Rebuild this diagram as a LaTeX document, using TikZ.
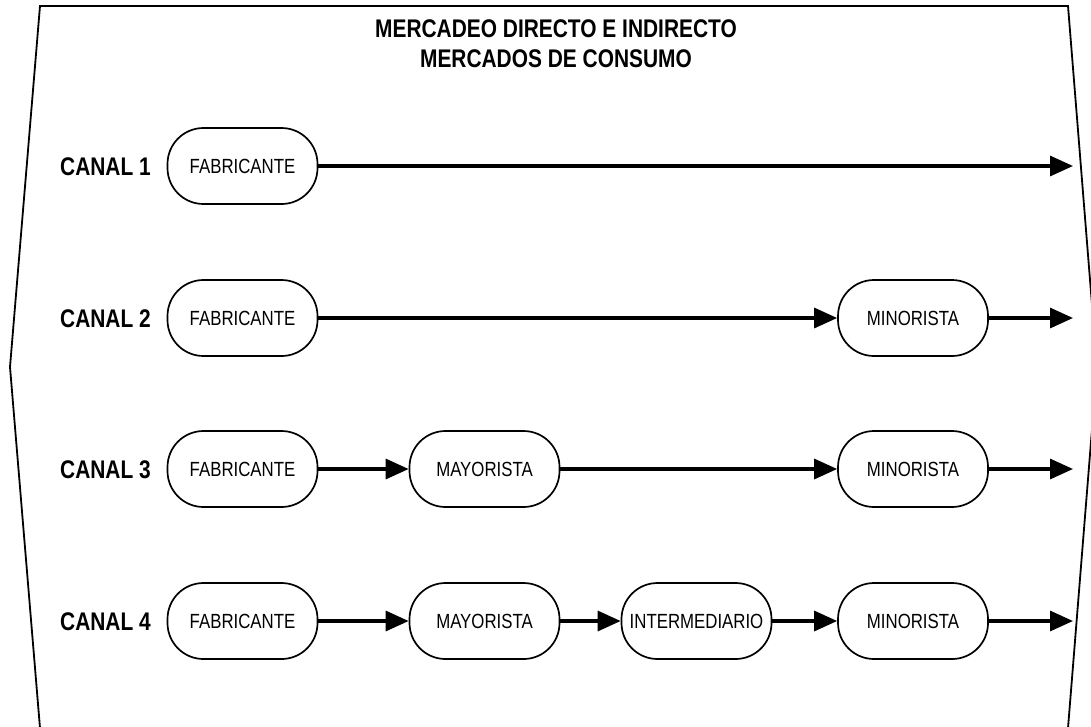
\documentclass[tikz,border=0pt]{standalone}
\usepackage{fontspec}
\setmainfont{Liberation Sans}[FakeStretch=0.82]
\usetikzlibrary{arrows.meta}
\tikzset{
  box/.style={draw=black, line width=1.7pt, rounded corners=36pt, minimum width=150pt, minimum height=76pt, inner sep=0pt, font=\fontsize{20.5pt}{24pt}\selectfont},
  conn/.style={line width=3.2pt, -{Triangle[length=23pt,width=20pt]}},
  canal/.style={anchor=base east, inner sep=0pt, font=\fontsize{25.5pt}{29pt}\selectfont\bfseries},
  ttl/.style={anchor=base, inner sep=0pt, font=\fontsize{25.5pt}{29pt}\selectfont\bfseries},
  frame/.style={draw=black, line width=1.8pt}
}
\begin{document}
\begin{tikzpicture}[x=1pt, y=-1pt]
\useasboundingbox (0,0) rectangle (1091,726);
\draw[frame] (40,6) -- (1068,6) -- (1097,367) -- (1068,728) -- (40,728) -- (10,367) -- cycle;
\node[ttl] (t1) at (556,37) {MERCADEO DIRECTO E INDIRECTO};
\node[ttl] (t2) at (556,67) {MERCADOS DE CONSUMO};
% row 1
\node[canal] (c1) at (151,175) {CANAL 1};
\node[box] (f1) at (242.5,166) {FABRICANTE};
\coordinate (e1) at (1073,166);
\draw[conn] (f1) -- (e1);
% row 2
\node[canal] (c2) at (151,327) {CANAL 2};
\node[box] (f2) at (242.5,318) {FABRICANTE};
\node[box] (m2) at (913,318) {MINORISTA};
\coordinate (e2) at (1073,318);
\draw[conn] (f2) -- (m2);
\draw[conn] (m2) -- (e2);
% row 3
\node[canal] (c3) at (151,478) {CANAL 3};
\node[box] (f3) at (242.5,469) {FABRICANTE};
\node[box] (y3) at (484.5,469) {MAYORISTA};
\node[box] (m3) at (913,469) {MINORISTA};
\coordinate (e3) at (1073,469);
\draw[conn] (f3) -- (y3);
\draw[conn] (y3) -- (m3);
\draw[conn] (m3) -- (e3);
% row 4
\node[canal] (c4) at (151,630) {CANAL 4};
\node[box] (f4) at (242.5,621) {FABRICANTE};
\node[box] (y4) at (484.5,621) {MAYORISTA};
\node[box] (i4) at (696.5,621) {INTERMEDIARIO};
\node[box] (m4) at (913,621) {MINORISTA};
\coordinate (e4) at (1073,621);
\draw[conn] (f4) -- (y4);
\draw[conn] (y4) -- (i4);
\draw[conn] (i4) -- (m4);
\draw[conn] (m4) -- (e4);
\end{tikzpicture}
\end{document}
